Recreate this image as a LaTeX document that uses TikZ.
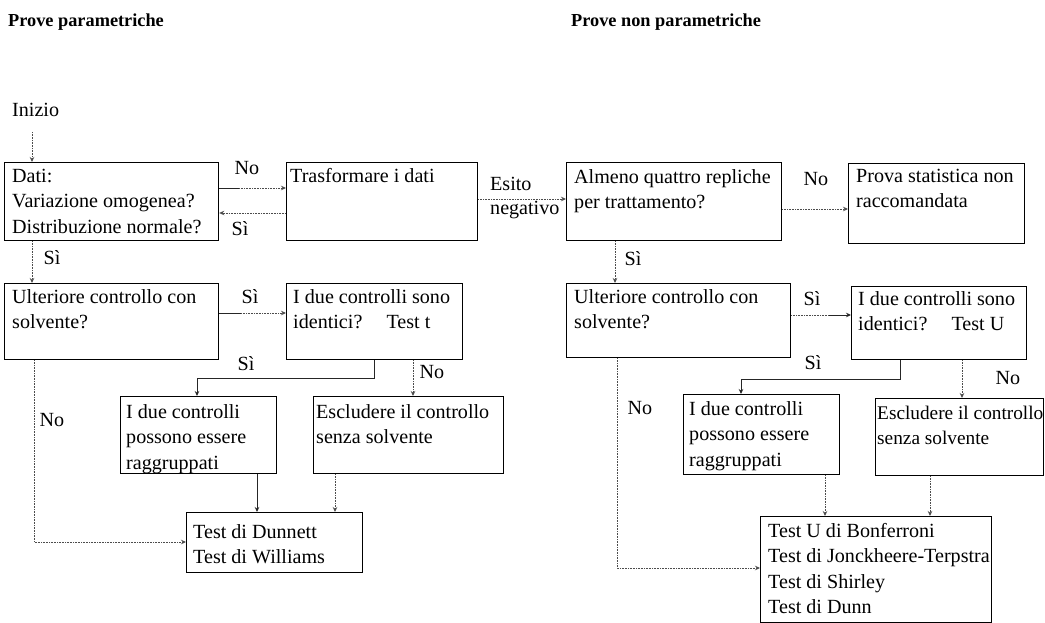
\documentclass[tikz,border=0pt]{standalone}
\usepackage{fontspec}
\setmainfont{Liberation Serif}
\usetikzlibrary{arrows.meta,calc}

% box with its text set from the top left corner; #7 is the first baseline below the top
\newcommand\flowbox[8]{%
  \node[box, minimum width={#4-#2}, minimum height={#5-#3}] (#1) at (#2,#3) {};
  \node[txt, #1text/.try] (#1t) at ($(#1.north west)+(#6,#7-18)$) {\rule{0pt}{18pt}#8};
}

\begin{document}
\begin{tikzpicture}[x=1pt,y=-1pt,
  box/.style={draw, line width=1.2pt, inner sep=0pt, anchor=north west},
  txt/.style={anchor=north west, inner sep=0pt, align=left,
              font=\fontsize{20.1}{25.5}\selectfont},
  escRtext/.style={font=\fontsize{19.3}{25.5}\selectfont},
  lbl/.style={inner sep=0pt, font=\fontsize{20.1}{25.5}\selectfont},
  ttl/.style={anchor=west, inner sep=0pt, font=\fontsize{18.3}{22}\selectfont\bfseries},
  tip/.style={-{Stealth[length=5pt,width=4.5pt]}},
  conn/.style={draw=black!70, line width=0.9pt, dash pattern=on 1pt off 0.6pt, tip},
  solidconn/.style={draw=black!85, line width=0.9pt, tip},
  solidseg/.style={draw=black!85, line width=0.9pt},
  dotseg/.style={draw=black!70, line width=0.9pt, dash pattern=on 1pt off 0.6pt}]
\useasboundingbox (0,0) rectangle (1045,623);

% titles
\node[ttl] (t1) at (8,22) {Prove parametriche};
\node[ttl] (t2) at (571,22) {Prove non parametriche};
\node[lbl, anchor=west] (start) at (12,110) {Inizio};

% parametric side
\flowbox{dati}{4}{162}{218}{240}{8}{20}{Dati:\\Variazione omogenea?\\Distribuzione normale?}
\flowbox{trasf}{286}{162}{477}{240}{4}{20}{Trasformare i dati}
\flowbox{ultL}{4}{283}{218}{359}{8}{20}{Ulteriore controllo con\\solvente?}
\flowbox{idL}{286}{283}{462}{359}{7}{20}{I due controlli sono\\identici?\hspace{1.2em}Test t}
\flowbox{ragL}{120}{396}{276}{473}{6}{22}{I due controlli\\possono essere\\raggruppati}
\flowbox{escL}{313}{396}{503}{473}{3}{22}{Escludere il controllo\\senza solvente}
\flowbox{dun}{186}{512}{362}{572}{7}{26}{Test di Dunnett\\Test di Williams}

% non-parametric side
\flowbox{almeno}{566}{162}{781}{240}{8}{21}{Almeno quattro repliche\\per trattamento?}
\flowbox{prova}{848}{163}{1024}{243}{8}{19}{Prova statistica non\\raccomandata}
\flowbox{ultR}{566}{283}{790}{357}{8}{20}{Ulteriore controllo con\\solvente?}
\flowbox{idR}{851}{286}{1026}{359}{7}{19}{I due controlli sono\\identici?\hspace{1.2em}Test U}
\flowbox{ragR}{683}{394}{839}{474}{6}{21}{I due controlli\\possono essere\\raggruppati}
\flowbox{escR}{875}{398}{1043}{475}{2}{21}{Escludere il controllo\\senza solvente}
\flowbox{tuR}{760}{516}{991}{622}{8}{21}{Test U di Bonferroni\\Test di Jonckheere-Terpstra\\Test di Shirley\\Test di Dunn}

% start arrow
\coordinate (inA) at ([xshift=28pt]dati.north west);
\draw[conn] ($(inA |- start.south)+(0,15)$) -- (inA);

% Dati <-> Trasformare
\coordinate (a1) at ([yshift=-26pt]dati.north east);
\coordinate (a1b) at ($(a1)+(20,0)$);
\draw[solidseg] (a1) -- (a1b);
\draw[conn] (a1b) -- (a1 -| trasf.west);
\node[lbl] (noA) at (247,168) {No};
\draw[conn] ([yshift=-51pt]trasf.north west) -- ([yshift=-51pt]dati.north east);
\node[lbl] (siA) at (240,229) {Sì};

% Trasformare -> Almeno
\draw[conn] ([yshift=-37pt]trasf.north east) -- ([yshift=-37pt]almeno.north west);
\node[lbl, anchor=west, align=left, font=\fontsize{20.1}{24}\selectfont] (esito) at (490,198) {Esito\\negativo};

% Almeno -> Prova
\coordinate (c5) at ([yshift=-47pt]almeno.north east);
\draw[conn] (c5) -- (c5 -| prova.west);
\node[lbl] (noB) at (816,179) {No};

% downward from the first row
\draw[conn] ([xshift=28pt]dati.south west) -- ([xshift=28pt]ultL.north west);
\node[lbl] (siB) at (52,258) {Sì};
\draw[conn] ([xshift=49pt]almeno.south west) -- ([xshift=49pt]ultR.north west);
\node[lbl] (siC) at (633,259) {Sì};

% left: Ulteriore -> identici
\coordinate (c8) at ([yshift=-30pt]ultL.north east);
\coordinate (c8b) at ($(c8)+(22,0)$);
\draw[solidseg] (c8) -- (c8b);
\draw[conn] (c8b) -- (c8 -| idL.west);
\node[lbl] (siD) at (250,297) {Sì};

% left: identici -> raggruppati / escludere
\draw[solidconn] ([xshift=88pt]idL.south west) -- ++(0,18) -| ([xshift=77pt]ragL.north west);
\node[lbl] (siE) at (246,364) {Sì};
\draw[conn] ([xshift=127pt]idL.south west) -- ([xshift=100pt]escL.north west);
\node[lbl] (noC) at (432,372) {No};

% left: to Dunnett
\draw[conn] ([xshift=30pt]ultL.south west) |- ([yshift=-30pt]dun.north west);
\node[lbl] (noD) at (52,420) {No};
\draw[solidconn] ([xshift=137pt]ragL.south west) -- ([xshift=71pt]dun.north west);
\draw[conn] ([xshift=22pt]escL.south west) -- ([xshift=149pt]dun.north west);

% right: Ulteriore -> identici
\coordinate (c14) at ([yshift=-32pt]ultR.north east);
\coordinate (c14b) at ($(c14)+(38,0)$);
\draw[dotseg] (c14) -- (c14b);
\draw[solidconn] (c14b) -- (c14 -| idR.west);
\node[lbl] (siF) at (812,299) {Sì};

% right: identici -> raggruppati / escludere
\draw[solidconn] ([xshift=49pt]idR.south west) -- ++(0,19) -| ([xshift=58pt]ragR.north west);
\node[lbl] (siG) at (813,363) {Sì};
\draw[conn] ([xshift=111pt]idR.south west) -- ([xshift=87pt]escR.north west);
\node[lbl] (noE) at (1008,378) {No};

% right: to the test list
\draw[conn] ([xshift=51pt]ultR.south west) |- ([yshift=-52pt]tuR.north west);
\node[lbl] (noF) at (640,408) {No};
\draw[conn] ([xshift=142pt]ragR.south west) -- ([xshift=65pt]tuR.north west);
\draw[conn] ([xshift=55pt]escR.south west) -- ([xshift=170pt]tuR.north west);
\end{tikzpicture}
\end{document}
